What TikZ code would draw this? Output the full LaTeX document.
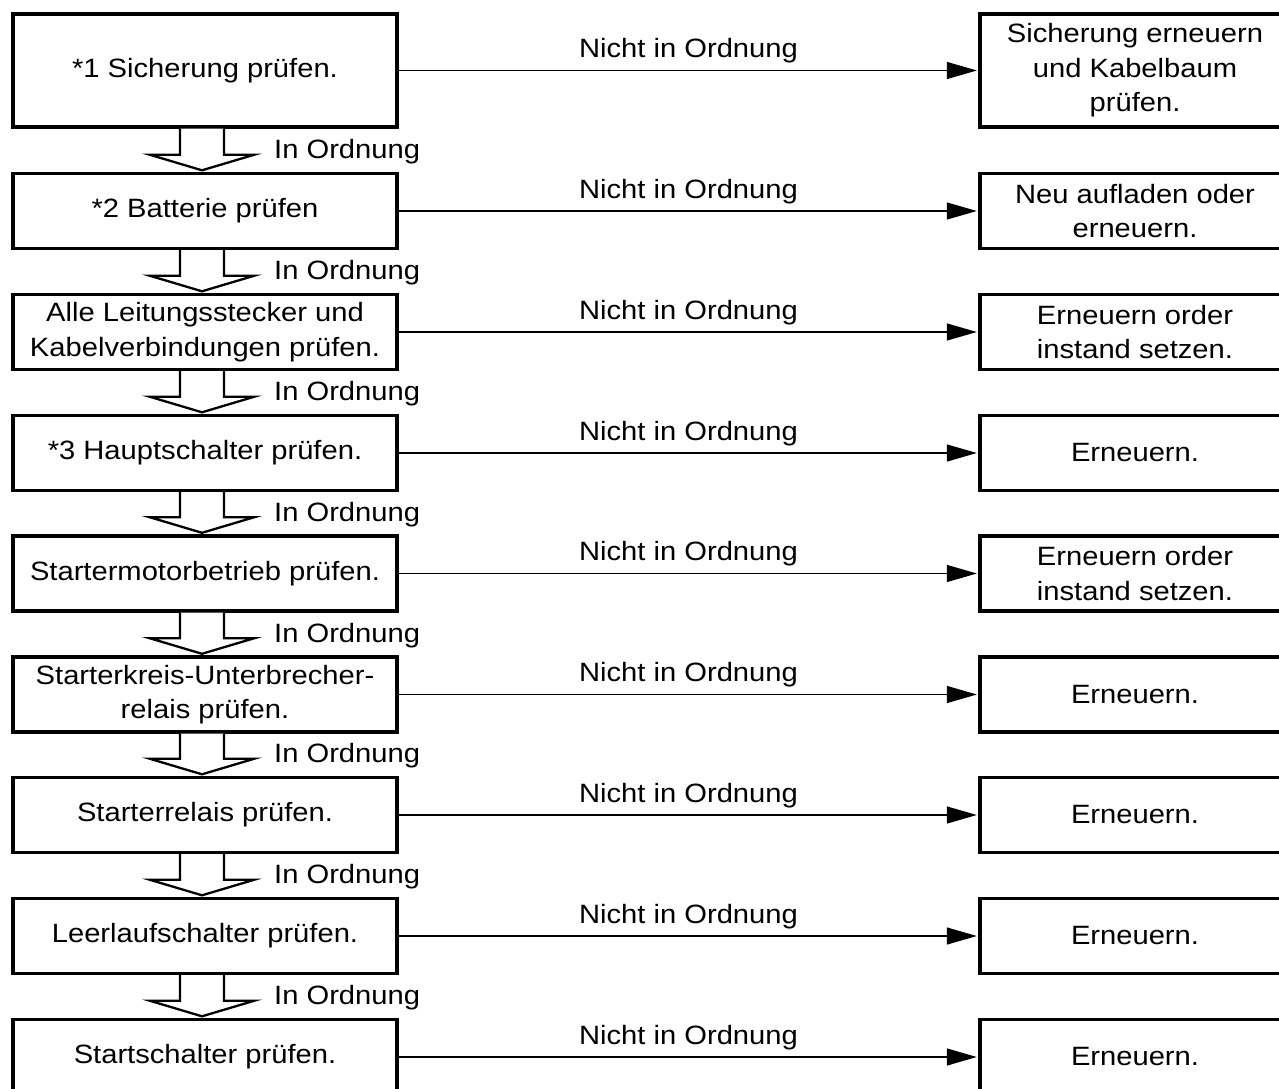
\documentclass[tikz,border=0pt]{standalone}
\usepackage{fontspec}
\setmainfont[FakeStretch=1.1]{Liberation Sans}
\usetikzlibrary{arrows.meta,calc}
\newcommand\okarrow[2]{%
  \draw[hollow] ($(#1.south)+(-25,0)$) -- ($(#2.north)+(-25,-17)$) -- ($(#2.north)+(-55,-17)$)
     -- ($(#2.north)+(-3,-1.5)$) -- ($(#2.north)+(49,-17)$) -- ($(#2.north)+(19,-17)$) -- ($(#1.south)+(19,0)$);
  \node[anchor=base west] (ok#1) at ($(#1.south)!0.5!(#2.north)+(69,8)$) {In Ordnung};
}
\newcommand\nioarrow[2]{%
  \draw[nio] (#1.east) -- (#2.west) node[midway, anchor=base, yshift=13pt] (n#1) {Nicht in Ordnung};
}
\begin{document}
\begin{tikzpicture}[x=1pt,y=-1pt,
  every node/.style={font=\fontsize{26.5}{34.5}\selectfont, inner sep=0pt},
  lbox/.style={draw, line width=3.4pt, minimum width=384pt, minimum height=75pt, align=center},
  rbox/.style={draw, line width=3.4pt, minimum width=310pt, minimum height=75pt, align=center},
  nio/.style={-{Triangle[length=30pt,width=17pt]}, line width=1.3pt, shorten >=1.5pt},
  hollow/.style={draw, fill=white, line width=2.3pt, line join=miter},
]
\useasboundingbox (0,0) rectangle (1279,1089);
\fill[white] (0,0) rectangle (1279,1089);

\node[lbox, minimum height=113pt] (L1) at (205,70.5) {*1 Sicherung prüfen.};
\node[rbox, minimum height=113pt] (R1) at (1135,70.5) {Sicherung erneuern\\und Kabelbaum\\prüfen.};

\node[lbox] (L2) at (205,211) {*2 Batterie prüfen};
\node[rbox] (R2) at (1135,211) {Neu aufladen oder\\erneuern.};

\node[lbox] (L3) at (205,332) {Alle Leitungsstecker und\\Kabelverbindungen prüfen.};
\node[rbox] (R3) at (1135,332) {Erneuern order\\instand setzen.};

\node[lbox] (L4) at (205,453) {*3 Hauptschalter prüfen.};
\node[rbox] (R4) at (1135,453) {Erneuern.};

\node[lbox] (L5) at (205,573.5) {Startermotorbetrieb prüfen.};
\node[rbox] (R5) at (1135,573.5) {Erneuern order\\instand setzen.};

\node[lbox] (L6) at (205,694.5) {Starterkreis-Unterbrecher-\\relais prüfen.};
\node[rbox] (R6) at (1135,694.5) {Erneuern.};

\node[lbox] (L7) at (205,815) {Starterrelais prüfen.};
\node[rbox] (R7) at (1135,815) {Erneuern.};

\node[lbox] (L8) at (205,936) {Leerlaufschalter prüfen.};
\node[rbox] (R8) at (1135,936) {Erneuern.};

\node[lbox] (L9) at (205,1057) {Startschalter prüfen.};
\node[rbox] (R9) at (1135,1057) {Erneuern.};

\nioarrow{L1}{R1}
\nioarrow{L2}{R2}
\nioarrow{L3}{R3}
\nioarrow{L4}{R4}
\nioarrow{L5}{R5}
\nioarrow{L6}{R6}
\nioarrow{L7}{R7}
\nioarrow{L8}{R8}
\nioarrow{L9}{R9}

\okarrow{L1}{L2}
\okarrow{L2}{L3}
\okarrow{L3}{L4}
\okarrow{L4}{L5}
\okarrow{L5}{L6}
\okarrow{L6}{L7}
\okarrow{L7}{L8}
\okarrow{L8}{L9}
\end{tikzpicture}
\end{document}
